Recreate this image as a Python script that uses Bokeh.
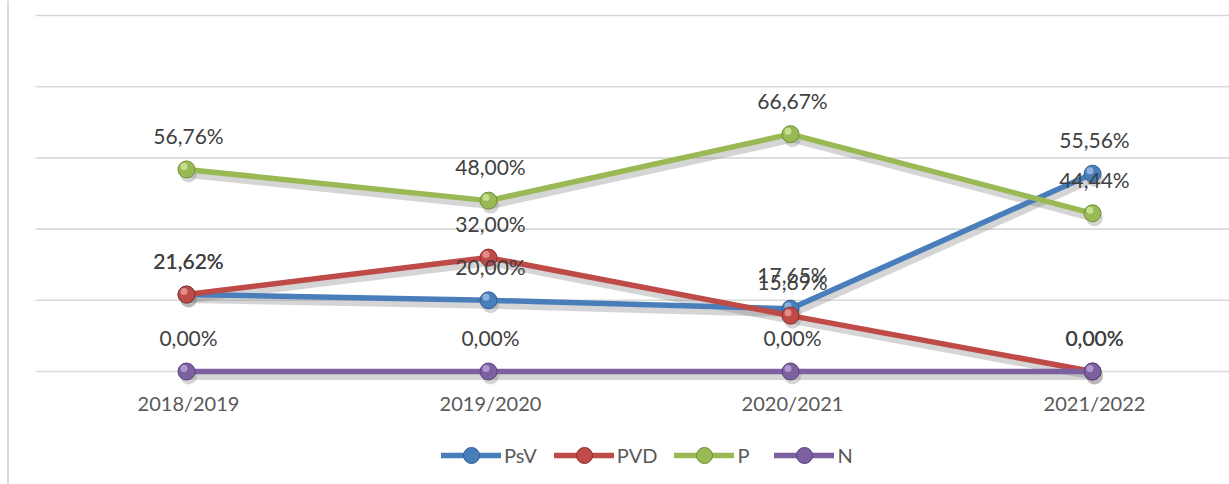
from bokeh.plotting import figure
from bokeh.models import Range1d, Legend, LegendItem, Span
from bokeh.core.properties import value
from bokeh.embed import file_html
from bokeh.resources import INLINE

# ---- data ----
categories = ["2018/2019", "2019/2020", "2020/2021", "2021/2022"]
series_names = ["PsV", "PVD", "P", "N"]
psv_values = [21.62, 20.00, 17.65, 55.56]
pvd_values = [21.62, 32.00, 15.69, 0.00]
p_values = [56.76, 48.00, 66.67, 44.44]
n_values = [0.00, 0.00, 0.00, 0.00]
y_ticks = [0, 20, 40, 60, 80, 100]

# ---- styles ----
colors = ["#4A7EBB", "#BE4B48", "#98B954", "#7D60A0"]
dark_colors = ["#2F5E96", "#8C2D2A", "#6F8F33", "#5A3F7E"]
light_colors = ["#A9C8EE", "#F2A9A7", "#D8F0A8", "#C7B2E3"]
FONT = "Lato"

xs = list(range(len(categories)))
all_values = [psv_values, pvd_values, p_values, n_values]

px_x = 302.0          # pixels per category
px_y = 3.56           # pixels per percent
frame_w, frame_h = 1229, 484
x0 = -186 / px_x
x1 = x0 + frame_w / px_x
y1 = 100 + 15 / px_y
y0 = y1 - frame_h / px_y

p = figure(frame_width=frame_w, frame_height=frame_h, output_backend="svg",
           toolbar_location=None,
           x_range=Range1d(x0, x1), y_range=Range1d(y0, y1),
           min_border_left=0, min_border_right=0, min_border_top=0,
           min_border_bottom=0)
p.outline_line_color = None
p.background_fill_color = "white"
p.border_fill_color = "white"
p.xaxis.visible = False
p.yaxis.visible = False
p.xgrid.grid_line_color = None
p.ygrid.grid_line_color = None

# shifted ranges for shadows / highlights (screen-pixel offsets)
sdx, sdy = 2 / px_x, 4.5 / px_y
p.extra_x_ranges = {"sh": Range1d(x0 - sdx, x1 - sdx),
                    "hl": Range1d(x0 + 2.5 / px_x, x1 + 2.5 / px_x)}
p.extra_y_ranges = {"sh": Range1d(y0 + sdy, y1 + sdy),
                    "hl": Range1d(y0 - 3 / px_y, y1 - 3 / px_y)}

# value gridlines (plot area starts half a category left of the first one)
grid_start = xs[0] - 0.5
p.segment(x0=[grid_start] * len(y_ticks), x1=[x1] * len(y_ticks), y0=y_ticks, y1=y_ticks,
          line_color="#D9D9D9", line_width=1.6)
# chart-area border on the left
p.add_layout(Span(location=x0 + 7.5 / px_x, dimension="height",
                  line_color="#D9D9D9", line_width=2))

# category (tick) labels under the zero line
p.text(xs, [y_ticks[0]] * len(xs), text=categories, text_align="center",
       text_baseline="middle", x_offset=2, y_offset=31, text_font=value(FONT),
       text_font_size="20px", text_color="#595959")

# shadows
for vals in all_values:
    p.line(xs, vals, x_range_name="sh", y_range_name="sh", line_width=8,
           line_color="#7F7F7F", line_alpha=0.33, line_join="round", line_cap="round")
    p.scatter(xs, vals, x_range_name="sh", y_range_name="sh", size=17,
              fill_color="#7F7F7F", fill_alpha=0.33, line_color=None)

items = []
for name, vals, c, dc, lc in zip(series_names, all_values, colors, dark_colors, light_colors):
    lr = p.line(xs, vals, line_width=5.5, line_color=c, line_join="round", line_cap="round")
    mr = p.scatter(xs, vals, size=17, fill_color=c, line_color=dc, line_width=1)
    p.scatter(xs, vals, x_range_name="hl", y_range_name="hl", size=7,
              fill_color=lc, fill_alpha=0.7, line_color=None)
    items.append(LegendItem(label=name, renderers=[lr, mr]))

# data labels
for vals in all_values:
    labels = [f"{v:.2f}".replace(".", ",") + "%" for v in vals]
    p.text(xs, vals, text=labels, text_align="center", text_baseline="middle",
           x_offset=2, y_offset=-34, text_font=value(FONT), text_font_size="21px",
           text_color="#404040")

legend = Legend(items=items, orientation="horizontal", location=(441, 9),
                glyph_width=60, glyph_height=40, label_height=40,
                label_standoff=3, spacing=17, padding=0, margin=0,
                border_line_color=None, background_fill_alpha=0,
                label_text_font=FONT, label_text_font_size="20px",
                label_text_color="#595959")
p.add_layout(legend)

open("out.html", "w").write(file_html(p, INLINE))
